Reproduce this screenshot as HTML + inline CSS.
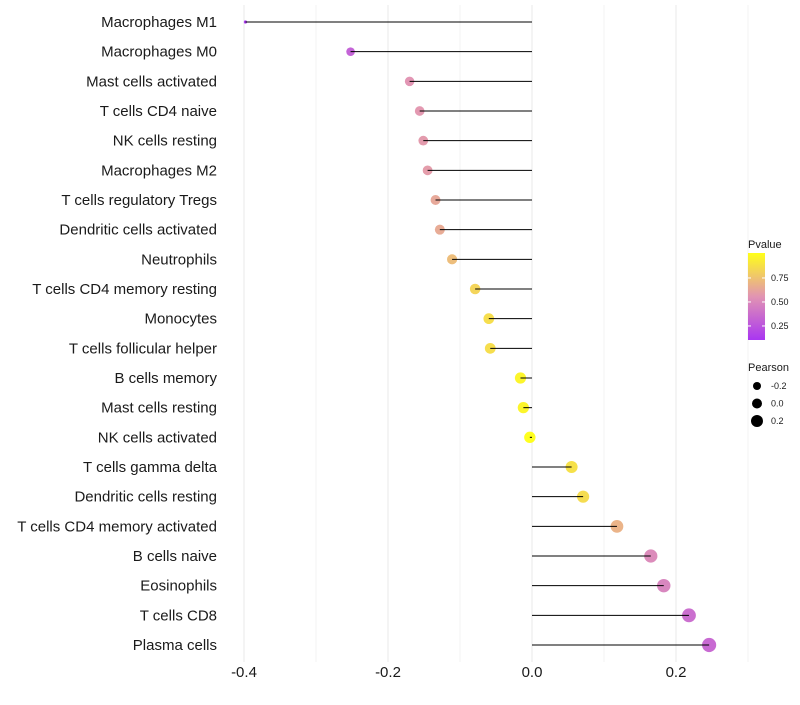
<!DOCTYPE html>
<html><head><meta charset="utf-8"><style>
body{margin:0;background:#fff}
svg{font-family:"Liberation Sans",sans-serif}
</style></head><body>
<svg width="800" height="700" id="chart"></svg>
<script>
const categories=["Macrophages M1","Macrophages M0","Mast cells activated","T cells CD4 naive","NK cells resting","Macrophages M2","T cells regulatory  Tregs","Dendritic cells activated","Neutrophils","T cells CD4 memory resting","Monocytes","T cells follicular helper","B cells memory","Mast cells resting","NK cells activated","T cells gamma delta","Dendritic cells resting","T cells CD4 memory activated","B cells naive","Eosinophils","T cells CD8","Plasma cells"];
const pearson=[-0.398,-0.252,-0.17,-0.156,-0.151,-0.145,-0.134,-0.128,-0.111,-0.079,-0.060,-0.058,-0.016,-0.012,-0.003,0.055,0.071,0.118,0.165,0.183,0.218,0.246];
const pvalue=[0.1,0.3,0.55,0.56,0.57,0.58,0.63,0.64,0.72,0.82,0.86,0.86,0.96,0.96,1.0,0.87,0.85,0.68,0.5,0.47,0.36,0.33];
const xTicks=[-0.4,-0.2,0.0,0.2];
const xTickLabels=["-0.4","-0.2","0.0","0.2"];
const legendP=[0.75,0.50,0.25];
const legendS=[-0.2,0.0,0.2];

const NS="http://www.w3.org/2000/svg";
const svg=document.getElementById('chart');
const x=v=>532+v*720;
const y=i=>22+i*(623/21);
const rad=v=>v<-0.35?1.6:5.7+5.6*v;
function lerp(a,b,t){return a.map((c,i)=>Math.round(c+(b[i]-c)*t));}
function col(p){const t=Math.max(0,Math.min(1,(p-0.1)/0.9));
 const s=[[160,32,240],[222,136,170],[255,255,0]];
 const c=t<0.5?lerp(s[0],s[1],t/0.5):lerp(s[1],s[2],(t-0.5)/0.5);
 return `rgb(${c[0]},${c[1]},${c[2]})`;}
function mk(tag,at,parent){const e=document.createElementNS(NS,tag);for(const k in at)e.setAttribute(k,at[k]);(parent||svg).appendChild(e);return e;}

const grid=mk('g',{});


for(let k=-4;k<=3;k++){mk('line',{x1:x(k/10),x2:x(k/10),y1:5,y2:662,stroke:'#ebebeb','stroke-width':k%2==0?1.1:0.6},grid);}

categories.forEach((c,i)=>{
 const t=mk('text',{x:217,y:y(i)+5,'text-anchor':'end','font-size':15,fill:'#1a1a1a'});
 t.textContent=c;
 
 
 const p=mk('circle',{cx:x(pearson[i]),cy:y(i),r:rad(pearson[i]),fill:col(pvalue[i]),'fill-opacity':0.88});
 
 
 const l=mk('line',{x1:x(0),x2:x(pearson[i]),y1:y(i),y2:y(i),stroke:'#000','stroke-width':1});
 
 
});
xTicks.forEach((v,i)=>{
 const t=mk('text',{x:x(v),y:677,'text-anchor':'middle','font-size':15,fill:'#1a1a1a'});
 t.textContent=xTickLabels[i];
 
 
});
const defs=mk('defs',{});
const g=mk('linearGradient',{id:'pg',x1:0,y1:1,x2:0,y2:0},defs);
[0,0.25,0.5,0.75,1].forEach(o=>mk('stop',{offset:o,'stop-color':col(0.1+0.9*o)},g));
const lt=mk('text',{x:748,y:248,'font-size':11,fill:'#1a1a1a'});lt.textContent='Pvalue';


const cb=mk('rect',{x:748,y:253,width:17,height:87,fill:'url(#pg)','fill-opacity':0.9});


legendP.forEach(p=>{const yy=253+(1.01-p)*96;
 mk('line',{x1:748,x2:751,y1:yy,y2:yy,stroke:'#fff'});mk('line',{x1:762,x2:765,y1:yy,y2:yy,stroke:'#fff'});
 const t=mk('text',{x:771,y:yy+3,'font-size':9,fill:'#1a1a1a'});t.textContent=p.toFixed(2);
 
 });
const st=mk('text',{x:748,y:371,'font-size':11,fill:'#1a1a1a'});st.textContent='Pearson';


legendS.forEach((s,i)=>{const yy=386+i*17.5;
 const c=mk('circle',{cx:757,cy:yy,r:5+5*s,fill:'#000'});
 
 
 const t=mk('text',{x:771,y:yy+3,'font-size':9,fill:'#1a1a1a'});t.textContent=s.toFixed(1);
 
 });
</script>
</body></html>
